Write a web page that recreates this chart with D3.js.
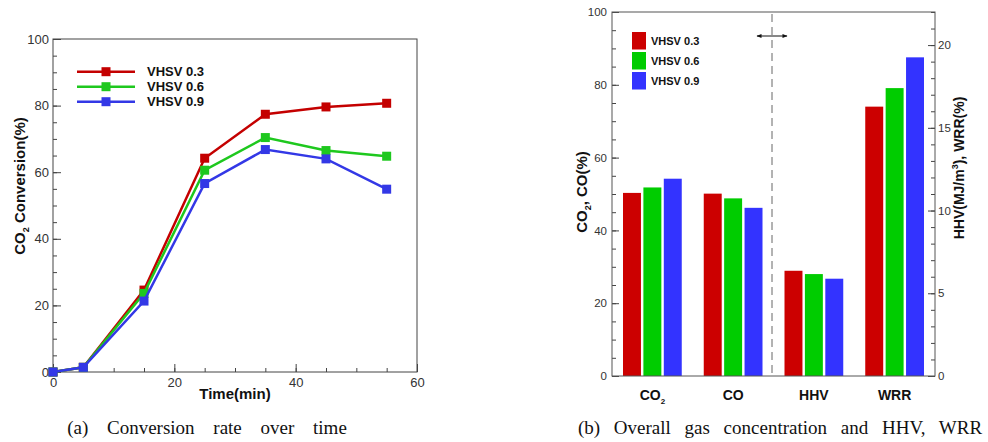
<!DOCTYPE html>
<html><head><meta charset="utf-8">
<script src="https://cdn.jsdelivr.net/npm/d3@7"></script>
<style>
html,body{margin:0;padding:0;background:#fff;}
svg{display:block;font-family:"Liberation Sans",Arial,sans-serif;}
</style></head>
<body>
<svg id="c" width="988" height="442"></svg>
<script>
// ---------- data: chart (a) ----------
const times = [0, 5, 15, 25, 35, 45, 55];
const seriesNames = ["VHSV 0.3", "VHSV 0.6", "VHSV 0.9"];
const conv03 = [0, 1.4, 24.6, 64.2, 77.4, 79.6, 80.7];
const conv06 = [0, 1.4, 23.6, 60.6, 70.4, 66.5, 64.8];
const conv09 = [0, 1.4, 21.3, 56.6, 66.8, 64.0, 54.9];
const xTicksA = [0, 20, 40, 60];
const yTicksA = [0, 20, 40, 60, 80, 100];

// ---------- data: chart (b) ----------
const categories = ["CO2", "CO", "HHV", "WRR"];
const catAxis = ["left", "left", "right", "right"];
const gas03 = [50.3, 50.1, 6.36, 16.28];
const gas06 = [51.8, 48.8, 6.16, 17.4];
const gas09 = [54.2, 46.2, 5.88, 19.26];
const yTicksBLeft = [0, 20, 40, 60, 80, 100];
const yTicksBRight = [0, 5, 10, 15, 20];

const colorsLine = ["#c40000", "#1ec81e", "#3338e6"];
const colorsBar = ["#cc0000", "#00cc00", "#3333ff"];

const svg = d3.select("#c");
svg.append("rect").attr("width", 988).attr("height", 442).attr("fill", "#fff");

// ================= Chart (a) =================
const gA = svg.append("g");
const xA = d3.scaleLinear().domain([0, 60]).range([53, 417]);
const yA = d3.scaleLinear().domain([0, 100]).range([372, 39]);

gA.append("g").attr("transform", "translate(53,0)")
  .call(d3.axisLeft(yA).tickValues(d3.range(0, 101, 5)).tickSize(-4).tickFormat(""))
  .call(g => g.select(".domain").remove());
gA.append("g").attr("transform", "translate(0,372)")
  .call(d3.axisBottom(xA).tickValues(d3.range(0, 61, 5)).tickSize(-4).tickFormat(""))
  .call(g => g.select(".domain").remove());
const yAxA = gA.append("g").attr("transform", "translate(53,0)")
  .call(d3.axisLeft(yA).tickValues(yTicksA).tickSize(-8).tickPadding(4).tickFormat(d3.format("d")));
yAxA.select(".domain").remove();
const xAxA = gA.append("g").attr("transform", "translate(0,372)")
  .call(d3.axisBottom(xA).tickValues(xTicksA).tickSize(-8).tickPadding(3).tickFormat(d3.format("d")));
xAxA.select(".domain").remove();
gA.selectAll(".tick line").attr("stroke", "#444");
gA.selectAll(".tick text").style("font-size", "13px").style("font-family", "'Liberation Sans', Arial, sans-serif").attr("fill", "#333");
xAxA.selectAll(".tick text").attr("dy", "0.9em");

gA.append("rect").attr("x", 53).attr("y", 39).attr("width", 364).attr("height", 333)
  .attr("fill", "none").attr("stroke", "#444").attr("stroke-width", 1);

const dataA = [conv03, conv06, conv09];
const line = d3.line().x((d, i) => xA(times[i])).y(d => yA(d));
dataA.forEach((vals, si) => {
  gA.append("path").datum(vals).attr("d", line).attr("fill", "none")
    .attr("stroke", colorsLine[si]).attr("stroke-width", 2.5);
  gA.selectAll(null).data(vals).enter().append("rect")
    .attr("x", (d, i) => xA(times[i]) - 4.5).attr("y", d => yA(d) - 4.5)
    .attr("width", 9).attr("height", 9).attr("fill", colorsLine[si]);
});

seriesNames.forEach((name, si) => {
  const y = 71.7 + si * 15;
  gA.append("line").attr("x1", 77).attr("x2", 135).attr("y1", y).attr("y2", y)
    .attr("stroke", colorsLine[si]).attr("stroke-width", 2.5);
  gA.append("rect").attr("x", 106 - 4.5).attr("y", y - 4.5).attr("width", 9).attr("height", 9)
    .attr("fill", colorsLine[si]);
  gA.append("text").attr("x", 147).attr("y", y).attr("dy", "0.36em")
    .style("font-size", "13px").style("font-weight", "bold").attr("fill", "#111").text(name);
});

const ylabA = gA.append("text").attr("transform", "translate(25,186) rotate(-90)")
  .attr("text-anchor", "middle").style("font-size", "15px").style("font-weight", "bold").attr("fill", "#111");
ylabA.append("tspan").text("CO");
ylabA.append("tspan").style("font-size", "9px").attr("dy", "4").text("2");
ylabA.append("tspan").attr("dy", "-4").text(" Conversion(%)");
gA.append("text").attr("x", 235).attr("y", 399).attr("text-anchor", "middle")
  .style("font-size", "15px").style("font-weight", "bold").attr("fill", "#111").text("Time(min)");

// ================= Chart (b) =================
const gB = svg.append("g");
const xB = d3.scaleBand().domain(categories).range([612, 935]).padding(0);
const inner = d3.scaleBand().domain(seriesNames).range([11, 69.75]).paddingInner(0.12).paddingOuter(0);
const yBL = d3.scaleLinear().domain([0, 100]).range([376, 12]);
const yBR = d3.scaleLinear().domain([0, 22]).range([376, 12]);

gB.append("g").attr("transform", "translate(612,0)")
  .call(d3.axisLeft(yBL).tickValues(d3.range(0, 101, 5)).tickSize(-4).tickFormat(""))
  .call(g => g.select(".domain").remove());
gB.append("g").attr("transform", "translate(935,0)")
  .call(d3.axisRight(yBR).tickValues(d3.range(0, 23, 1)).tickSize(-4).tickFormat(""))
  .call(g => g.select(".domain").remove());
const yAxBL = gB.append("g").attr("transform", "translate(612,0)")
  .call(d3.axisLeft(yBL).tickValues(yTicksBLeft).tickSize(-7).tickPadding(5).tickFormat(d3.format("d")));
yAxBL.select(".domain").remove();
const yAxBR = gB.append("g").attr("transform", "translate(935,0)")
  .call(d3.axisRight(yBR).tickValues(yTicksBRight).tickSize(-7).tickPadding(3).tickFormat(d3.format("d")));
yAxBR.select(".domain").remove();
gB.selectAll(".tick line").attr("stroke", "#444");
gB.selectAll(".tick text").style("font-size", "11.5px").style("font-family", "'Liberation Sans', Arial, sans-serif").attr("fill", "#333");

const dataB = [gas03, gas06, gas09];
dataB.forEach((vals, si) => {
  gB.selectAll(null).data(vals).enter().append("rect")
    .attr("x", (d, i) => xB(categories[i]) + inner(seriesNames[si]))
    .attr("width", inner.bandwidth())
    .attr("y", (d, i) => (catAxis[i] === "left" ? yBL : yBR)(d))
    .attr("height", (d, i) => 376 - (catAxis[i] === "left" ? yBL : yBR)(d))
    .attr("fill", colorsBar[si]);
});

gB.append("rect").attr("x", 612).attr("y", 12).attr("width", 323).attr("height", 364)
  .attr("fill", "none").attr("stroke", "#555").attr("stroke-width", 1);

const sepX = 772;
gB.append("line").attr("x1", sepX).attr("x2", sepX).attr("y1", 14).attr("y2", 376)
  .attr("stroke", "#666").attr("stroke-width", 1).attr("stroke-dasharray", "8,5");
const defs = svg.append("defs");
defs.append("marker").attr("id", "ah").attr("viewBox", "0 0 10 10").attr("refX", 9).attr("refY", 5)
  .attr("markerWidth", 7).attr("markerHeight", 5).attr("orient", "auto-start-reverse")
  .append("path").attr("d", "M0,1 L10,5 L0,9 Z").attr("fill", "#111");
gB.append("line").attr("x1", 757).attr("x2", 787).attr("y1", 36).attr("y2", 36)
  .attr("stroke", "#111").attr("stroke-width", 1)
  .attr("marker-start", "url(#ah)").attr("marker-end", "url(#ah)");

categories.forEach(c => {
  const t = gB.append("text").attr("x", xB(c) + xB.bandwidth() / 2).attr("y", 400)
    .attr("text-anchor", "middle").style("font-size", "14px").style("font-weight", "bold").attr("fill", "#111");
  if (c === "CO2") {
    t.append("tspan").text("CO");
    t.append("tspan").style("font-size", "8px").attr("dy", "4").text("2");
  } else t.text(c);
});

seriesNames.forEach((name, si) => {
  const y = 32 + si * 20;
  gB.append("rect").attr("x", 632).attr("y", y).attr("width", 14).attr("height", 17.5).attr("fill", colorsBar[si]);
  gB.append("text").attr("x", 651).attr("y", y + 9).attr("dy", "0.36em")
    .style("font-size", "11px").style("font-weight", "bold").attr("fill", "#111").text(name);
});

const ylabBL = gB.append("text").attr("transform", "translate(587,192) rotate(-90)")
  .attr("text-anchor", "middle").style("font-size", "15px").style("font-weight", "bold").attr("fill", "#111");
ylabBL.append("tspan").text("CO");
ylabBL.append("tspan").style("font-size", "9px").attr("dy", "4").text("2");
ylabBL.append("tspan").attr("dy", "-4").text(", CO(%)");
const ylabBR = gB.append("text").attr("transform", "translate(964,168) rotate(-90)")
  .attr("text-anchor", "middle").style("font-size", "14px").style("font-weight", "bold").attr("fill", "#111");
ylabBR.append("tspan").text("HHV(MJ/m");
ylabBR.append("tspan").style("font-size", "9px").attr("dy", "-6").text("3");
ylabBR.append("tspan").attr("dy", "6").text("), WRR(%)");

const capStyle = (t, ws) => t.attr("text-anchor", "middle")
  .style("font-family", "'Liberation Serif', 'Times New Roman', serif").style("font-size", "19px")
  .style("word-spacing", ws).attr("fill", "#111");
svg.append("text").attr("x", 207).attr("y", 434).call(capStyle, "14px").text("(a) Conversion rate over time");
svg.append("text").attr("x", 780).attr("y", 434).call(capStyle, "9px").text("(b) Overall gas concentration and HHV, WRR");
</script>
</body></html>
